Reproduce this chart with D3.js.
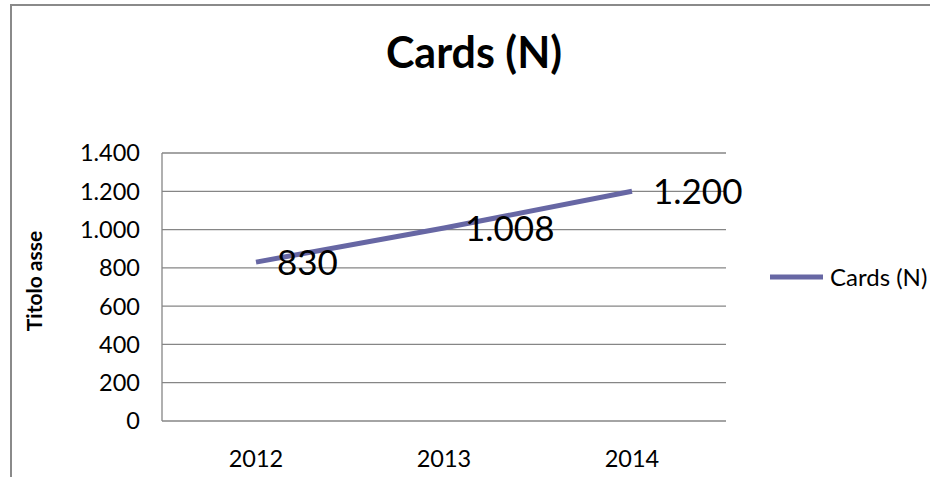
<!DOCTYPE html>
<html><head><meta charset="utf-8">
<script src="https://cdn.jsdelivr.net/npm/d3@7"></script>
<style>body{margin:0;background:#fff}svg{display:block}text{font-family:Lato,"Open Sans",sans-serif}</style>
</head><body><svg id="c" width="930" height="477"></svg>
<script>
const categories = ["2012","2013","2014"];
const values = [830, 1008, 1200];
const labels = ["830","1.008","1.200"];
const yTicks = [0,200,400,600,800,1000,1200,1400];
const seriesName = "Cards (N)";
const title = "Cards (N)";
const yTitle = "Titolo asse";

const svg = d3.select("#c");
const fmt = d => d3.format(",")(d).replace(/,/g, ".");
const m = {l:162, r:726, t:153, b:421};
const x = d3.scaleBand().domain(categories).range([m.l, m.r]);
const y = d3.scaleLinear().domain([0,1400]).range([m.b, m.t]);

// outer border
svg.append("path").attr("d","M11,477V5H930").attr("fill","none").attr("stroke","#8a8a8a").attr("stroke-width",2);

// gridlines
svg.append("g").selectAll("line").data(yTicks).join("line")
  .attr("x1",m.l).attr("x2",m.r).attr("y1",d=>y(d)).attr("y2",d=>y(d))
  .attr("stroke","#868686").attr("stroke-width",1.3);
// y axis line
svg.append("line").attr("x1",m.l).attr("x2",m.l).attr("y1",m.t).attr("y2",m.b)
  .attr("stroke","#868686").attr("stroke-width",1.3);

// y tick labels
svg.append("g").selectAll("text").data(yTicks).join("text")
  .attr("x",140).attr("y",d=>y(d)).attr("dy","0.36em").attr("text-anchor","end")
  .attr("font-size",23.5).attr("fill","#000").text(fmt);
// x tick labels
svg.append("g").selectAll("text").data(categories).join("text")
  .attr("x",d=>x(d)+x.bandwidth()/2).attr("y",467).attr("text-anchor","middle")
  .attr("font-size",23.5).attr("fill","#000").text(d=>d);

// line
const line = d3.line().x((d,i)=>x(categories[i])+x.bandwidth()/2).y(d=>y(d));
svg.append("path").datum(values).attr("d",line).attr("fill","none")
  .attr("stroke","#6767a4").attr("stroke-width",5).attr("stroke-linecap","butt");

// data labels
svg.append("g").selectAll("text").data(values).join("text")
  .attr("x",(d,i)=>x(categories[i])+x.bandwidth()/2+21).attr("y",d=>y(d)).attr("dy","0.36em")
  .attr("font-size",35).attr("fill","#000").text((d,i)=>labels[i]);

// title
svg.append("text").attr("x",474).attr("y",68).attr("text-anchor","middle")
  .attr("font-size",43).attr("font-weight","bold").attr("fill","#000").text(title);

// y axis title
svg.append("text").attr("transform","translate(42,281) rotate(-90)").attr("text-anchor","middle")
  .attr("font-size",21).attr("font-weight","bold").attr("fill","#000").text(yTitle);

// legend
svg.append("line").attr("x1",770).attr("x2",823).attr("y1",277).attr("y2",277)
  .attr("stroke","#6767a4").attr("stroke-width",5);
svg.append("text").attr("x",830).attr("y",277).attr("dy","0.36em")
  .attr("font-size",24).attr("fill","#000").text(seriesName);
</script></body></html>
